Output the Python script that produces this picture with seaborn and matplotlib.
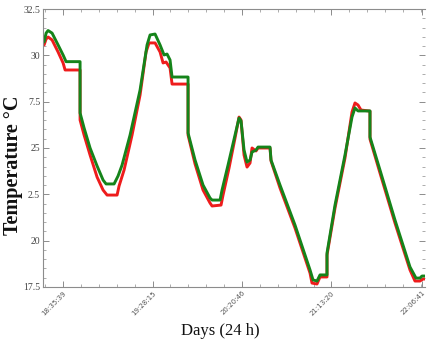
import matplotlib
matplotlib.use("Agg")
import matplotlib.pyplot as plt
from matplotlib.ticker import FixedLocator, MultipleLocator
import seaborn as sns
import pandas as pd

# Elapsed time in minutes after 18:35:39, with the logged temperatures (°C)
green_minutes = [-11.17, -9.99, -8.82, -6.47, -2.94, 0.0, 1.76, 9.99, 9.99, 12.35,
                 15.87, 19.99, 23.52, 25.28, 29.98, 32.33, 34.69, 39.39, 45.27, 49.38,
                 51.15, 54.09, 57.03, 59.38, 61.14, 62.90, 64.08, 73.49, 73.49, 77.60,
                 82.30, 86.42, 87.60, 92.30, 93.47, 97.00, 101.12, 103.47, 104.64, 106.41,
                 108.17, 109.94, 111.11, 113.46, 114.64, 121.69, 122.28, 127.57, 136.39, 145.21,
                 146.97, 149.32, 151.09, 155.20, 155.20, 159.91, 165.78, 169.90, 171.66, 173.43,
                 180.48, 180.48, 186.36, 195.18, 204.00, 207.53, 209.88, 211.05, 213.40]
green_temp = [30.72, 31.20, 31.34, 31.20, 30.56, 30.02, 29.66, 29.66, 26.89, 26.08,
              25.00, 24.03, 23.27, 23.06, 23.06, 23.49, 24.08, 25.70, 28.13, 30.56,
              31.10, 31.15, 30.56, 30.02, 30.07, 29.75, 28.83, 28.83, 25.81, 24.35,
              23.00, 22.30, 22.19, 22.19, 22.73, 24.08, 25.70, 26.62, 26.46, 24.89,
              24.24, 24.35, 24.78, 24.89, 25.05, 25.05, 24.35, 23.00, 20.84, 18.42,
              17.88, 17.82, 18.15, 18.15, 19.33, 21.92, 24.62, 26.67, 27.16, 27.00,
              27.00, 25.59, 23.81, 21.11, 18.58, 17.98, 17.98, 18.09, 18.09]

red_minutes = [-11.17, -9.99, -8.82, -6.47, -2.94, 0.0, 1.18, 9.99, 9.99, 12.35,
               15.87, 19.99, 23.52, 25.87, 31.75, 32.92, 35.86, 40.56, 45.27, 48.79,
               50.56, 54.09, 57.03, 58.79, 60.55, 62.90, 64.08, 73.49, 73.49, 77.60,
               82.30, 86.42, 87.60, 92.89, 94.06, 97.59, 101.12, 103.47, 104.64, 106.41,
               108.17, 109.94, 111.11, 113.46, 114.64, 121.69, 122.28, 127.57, 136.39, 145.21,
               146.38, 149.32, 151.09, 155.20, 155.20, 159.91, 165.78, 169.90, 171.66, 173.43,
               175.19, 180.48, 180.48, 186.36, 195.18, 204.00, 206.94, 209.88, 211.64, 213.40]
red_temp = [30.56, 30.88, 30.99, 30.83, 30.18, 29.59, 29.21, 29.21, 26.51, 25.70,
            24.62, 23.43, 22.73, 22.46, 22.46, 22.95, 23.81, 25.70, 27.86, 30.18,
            30.67, 30.67, 30.18, 29.59, 29.64, 29.32, 28.45, 28.45, 25.70, 24.14,
            22.73, 22.03, 21.87, 21.92, 22.46, 23.92, 25.54, 26.67, 26.51, 24.62,
            23.97, 24.19, 25.00, 24.84, 25.00, 25.00, 24.30, 22.84, 20.68, 18.25,
            17.71, 17.66, 18.04, 18.04, 19.22, 21.76, 24.46, 26.94, 27.43, 27.32,
            27.05, 26.99, 25.48, 23.65, 20.95, 18.42, 17.82, 17.82, 17.93, 17.93]

tick_labels = ["18:35:39", "19:28:15", "20:20:46", "21:13:20", "22:06:41"]
y_tick_values = [17.5, 20, 22.5, 25, 27.5, 30, 32.5]
y_tick_labels = ["17.5", "20", "2.5", "25", "7.5", "30", "32.5"]


def clock_to_minutes(s, origin="18:35:39"):
    h, m, sec = (int(v) for v in s.split(":"))
    h0, m0, s0 = (int(v) for v in origin.split(":"))
    return (h * 3600 + m * 60 + sec - (h0 * 3600 + m0 * 60 + s0)) / 60.0


tick_pos = [clock_to_minutes(t) for t in tick_labels]

sns.set_theme(style="white")
plt.rcParams["font.family"] = ["Liberation Serif", "DejaVu Serif"]

fig = plt.figure(figsize=(4.39, 3.47), dpi=100)
ax = fig.add_axes([0.098, 0.173, 0.870, 0.801])

red_df = pd.DataFrame({"minutes": red_minutes, "temp": red_temp})
green_df = pd.DataFrame({"minutes": green_minutes, "temp": green_temp})

sns.lineplot(data=red_df, x="minutes", y="temp", sort=False, estimator=None,
             color="#ee1c1c", linewidth=2.1, ax=ax)
sns.lineplot(data=green_df, x="minutes", y="temp", sort=False, estimator=None,
             color="#15841a", linewidth=2.1, ax=ax)

ax.set_xlim(-11.8, 212.8)
ax.set_ylim(17.5, 32.5)

ax.xaxis.set_major_locator(FixedLocator(tick_pos))
ax.xaxis.set_minor_locator(MultipleLocator((tick_pos[1] - tick_pos[0]) / 5))
ax.set_xticklabels(tick_labels, rotation=45, ha="right", rotation_mode="anchor",
                   fontsize=5, family="DejaVu Sans", color="#555555")
ax.set_yticks(y_tick_values)
ax.set_yticklabels(y_tick_labels, fontsize=7, color="#444444")
ax.yaxis.set_minor_locator(MultipleLocator(0.5))

for side in ["left", "bottom", "top"]:
    ax.spines[side].set_color("#8c8c8c")
    ax.spines[side].set_linewidth(0.8)
ax.spines["right"].set_visible(False)

ax.tick_params(which="both", direction="in", color="#8c8c8c",
               top=True, right=True, bottom=True, left=True)
ax.tick_params(which="major", length=4, width=0.7, pad=2)
ax.tick_params(which="minor", length=2, width=0.5)
ax.tick_params(axis="y", which="both", right=True, colors="#444444")
ax.tick_params(axis="y", which="both", color="#8c8c8c")

ax.set_xlabel("Days (24 h)", fontsize=12, color="#111111")
ax.xaxis.set_label_coords(0.463, -0.158)
ax.set_ylabel("Temperature °C", fontsize=14.5, fontweight="bold", color="#111111")
ax.yaxis.set_label_coords(-0.0785, 0.439)
ax.yaxis.label.set_va("center")
ax.xaxis.label.set_va("center")

fig.savefig("out.png", dpi=100)
